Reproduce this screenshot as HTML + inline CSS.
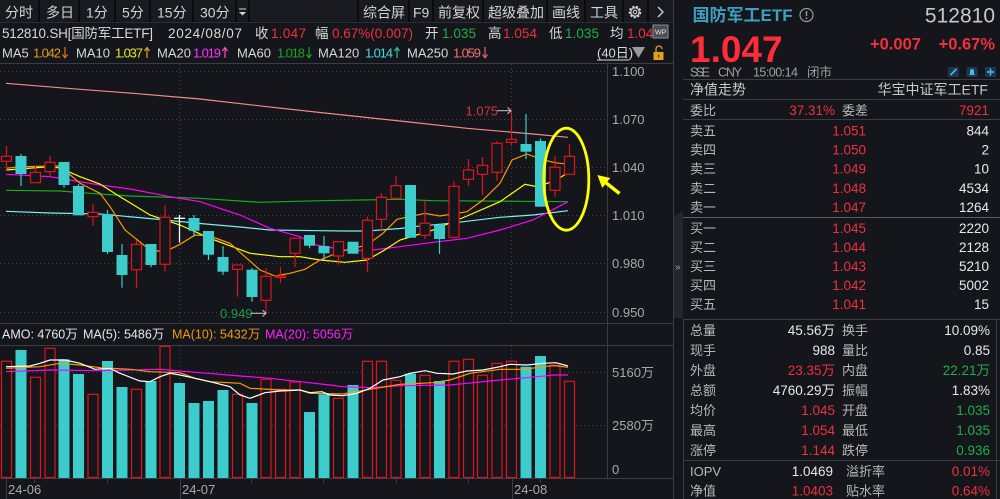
<!DOCTYPE html>
<html><head><meta charset="utf-8">
<style>
html,body{margin:0;padding:0;background:#14161b;}
body{width:1000px;height:499px;overflow:hidden;}
svg{display:block;}
text{font-family:"Liberation Sans","Noto Sans CJK SC",sans-serif;}
</style></head>
<body>
<svg width="1000" height="499" viewBox="0 0 1000 499" xmlns="http://www.w3.org/2000/svg">
<rect x="0" y="0" width="1000" height="499" fill="#14161b"/>

<!-- ===== Toolbar ===== -->
<rect x="0" y="0" width="673" height="22" fill="#181a1f"/>
<g stroke="#0a0b0d" stroke-width="2">
<line x1="39" y1="0" x2="39" y2="22"/><line x1="79" y1="0" x2="79" y2="22"/><line x1="115" y1="0" x2="115" y2="22"/>
<line x1="150" y1="0" x2="150" y2="22"/><line x1="193" y1="0" x2="193" y2="22"/><line x1="236" y1="0" x2="236" y2="22"/>
<line x1="249" y1="0" x2="249" y2="22"/><line x1="358" y1="0" x2="358" y2="22"/><line x1="409" y1="0" x2="409" y2="22"/>
<line x1="433" y1="0" x2="433" y2="22"/><line x1="483" y1="0" x2="483" y2="22"/><line x1="547" y1="0" x2="547" y2="22"/>
<line x1="585" y1="0" x2="585" y2="22"/><line x1="623" y1="0" x2="623" y2="22"/><line x1="648" y1="0" x2="648" y2="22"/>
</g>
<g font-size="14" fill="#d4d4d4">
<text x="5" y="17.5">分时</text><text x="46" y="17.5">多日</text><text x="86" y="17.5">1分</text>
<text x="122" y="17.5">5分</text><text x="157" y="17.5">15分</text><text x="200" y="17.5">30分</text>
<text x="363" y="17.5">综合屏</text><text x="413" y="17.5">F9</text><text x="438" y="17.5">前复权</text>
<text x="488" y="17.5">超级叠加</text><text x="552" y="17.5">画线</text><text x="590" y="17.5">工具</text>
</g>
<line x1="239" y1="9" x2="246" y2="9" stroke="#d4d4d4" stroke-width="1"/>
<polygon points="239,12 246,12 242.5,15.5" fill="#d4d4d4"/>
<circle cx="635" cy="12" r="5.2" fill="none" stroke="#cfcfcf" stroke-width="2.2" stroke-dasharray="2.2 1.4"/>
<circle cx="635" cy="12" r="4.2" fill="none" stroke="#cfcfcf" stroke-width="1.2"/>
<circle cx="635" cy="12" r="1.8" fill="none" stroke="#cfcfcf" stroke-width="1.1"/>
<polyline points="658,7 663,12 658,17" fill="none" stroke="#cfcfcf" stroke-width="1.4"/>
<line x1="0" y1="22.5" x2="673" y2="22.5" stroke="#2a2d33"/>

<!-- ===== Info line ===== -->
<g font-size="13.5">
<text x="2" y="38" fill="#d8d8d8" textLength="151">512810.SH[国防军工ETF]</text>
<text x="168" y="38" fill="#d8d8d8" textLength="74">2024/08/07</text>
<text x="255" y="38" fill="#d8d8d8">收</text>
<text x="271" y="38" fill="#f0303c" textLength="35">1.047</text>
<text x="315" y="38" fill="#d8d8d8">幅</text>
<text x="332" y="38" fill="#f0303c" textLength="81">0.67%(0.007)</text>
<text x="425" y="38" fill="#d8d8d8">开</text>
<text x="442" y="38" fill="#1fae45" textLength="34">1.035</text>
<text x="488" y="38" fill="#d8d8d8">高</text>
<text x="503" y="38" fill="#f0303c" textLength="34">1.054</text>
<text x="549" y="38" fill="#d8d8d8">低</text>
<text x="565" y="38" fill="#1fae45" textLength="34">1.035</text>
<text x="610" y="38" fill="#d8d8d8">均</text>
<text x="627" y="38" fill="#f0303c">1.04</text>
</g>
<rect x="653" y="25" width="15" height="13" fill="#4a4d55" stroke="#8a8d95" stroke-width="1"/>
<text x="655" y="34.5" font-size="7" fill="#e8e8e8">WP</text>

<!-- ===== MA line ===== -->
<g font-size="13">
<text x="2" y="57.5" fill="#d8d8d8">MA5</text>
<text x="33" y="57.5" fill="#e09a1c" textLength="28">1.042</text>
<text x="76" y="57.5" fill="#d8d8d8">MA10</text>
<text x="115" y="57.5" fill="#e8e820" textLength="28">1.037</text>
<text x="157" y="57.5" fill="#d8d8d8">MA20</text>
<text x="193" y="57.5" fill="#ff30ff" textLength="28">1.019</text>
<text x="237" y="57.5" fill="#d8d8d8">MA60</text>
<text x="277" y="57.5" fill="#22a022" textLength="28">1.018</text>
<text x="318" y="57.5" fill="#d8d8d8">MA120</text>
<text x="365" y="57.5" fill="#4ad8e0" textLength="28">1.014</text>
<text x="407" y="57.5" fill="#d8d8d8">MA250</text>
<text x="453" y="57.5" fill="#f07070" textLength="28">1.059</text>
<text x="597" y="57.5" fill="#d8d8d8">(40日)</text>
</g>
<!-- trend arrows -->
<g fill="none" stroke-width="1.2">
<g stroke="#e0701c"><line x1="65" y1="47" x2="65" y2="57.5"/><polyline points="62.5,54.5 65,57.8 67.5,54.5"/></g>
<g stroke="#e0a020"><line x1="147" y1="48" x2="147" y2="58"/><polyline points="144.5,51 147,47.5 149.5,51"/></g>
<g stroke="#ff50c0"><line x1="225" y1="48" x2="225" y2="58"/><polyline points="222.5,51 225,47.5 227.5,51"/></g>
<g stroke="#22a022"><line x1="309" y1="47" x2="309" y2="57.5"/><polyline points="306.5,54.5 309,57.8 311.5,54.5"/></g>
<g stroke="#30c090"><line x1="397" y1="48" x2="397" y2="58"/><polyline points="394.5,51 397,47.5 399.5,51"/></g>
<g stroke="#f06060"><line x1="485" y1="47" x2="485" y2="57.5"/><polyline points="482.5,54.5 485,57.8 487.5,54.5"/></g>
</g>
<line x1="597" y1="60" x2="629" y2="60" stroke="#d8d8d8" stroke-width="1"/>
<polygon points="632,47 645,47 638.5,58" fill="#9a9a9a"/>
<rect x="653.5" y="52" width="10" height="8" fill="#e0a020"/>
<path d="M656,52 v-3 a3,3 0 0 1 6,0" fill="none" stroke="#e0a020" stroke-width="1.3"/>
<rect x="657.8" y="54.5" width="1.6" height="3" fill="#7a5000"/>

<!-- ===== Frame lines ===== -->
<g stroke="#3a3d44" stroke-width="1">
<line x1="0" y1="63.5" x2="673" y2="63.5"/>
<line x1="0" y1="323.5" x2="673" y2="323.5"/>
<line x1="0" y1="345.5" x2="673" y2="345.5"/>
<line x1="0" y1="478.5" x2="673" y2="478.5"/>
<line x1="607.5" y1="63.5" x2="607.5" y2="478.5"/>
<line x1="673.5" y1="0" x2="673.5" y2="499"/>
</g>

<!-- grid -->
<g stroke="#40434b" stroke-width="1" stroke-dasharray="1 3">
<line x1="0" y1="71.5" x2="607" y2="71.5"/>
<line x1="0" y1="119.5" x2="607" y2="119.5"/>
<line x1="0" y1="167.5" x2="607" y2="167.5"/>
<line x1="0" y1="215.5" x2="607" y2="215.5"/>
<line x1="0" y1="263.5" x2="607" y2="263.5"/>
<line x1="0" y1="312.5" x2="607" y2="312.5"/>
<line x1="179.5" y1="64" x2="179.5" y2="323"/>
<line x1="511.5" y1="64" x2="511.5" y2="323"/>
<line x1="0" y1="372.5" x2="607" y2="372.5"/>
<line x1="0" y1="425.5" x2="607" y2="425.5"/>
<line x1="179.5" y1="346" x2="179.5" y2="478"/>
<line x1="511.5" y1="346" x2="511.5" y2="478"/>
</g>

<!-- price axis labels -->
<g font-size="13" fill="#a8a8a8">
<text x="612" y="76">1.100</text>
<text x="612" y="124">1.070</text>
<text x="612" y="172">1.040</text>
<text x="612" y="220">1.010</text>
<text x="612" y="268">0.980</text>
<text x="612" y="317">0.950</text>
<text x="612" y="377">5160万</text>
<text x="612" y="430">2580万</text>
<text x="612" y="474">0</text>
</g>

<!-- ===== MA lines (price) ===== -->
<g fill="none" stroke-width="1.2">
<polyline stroke="#f08a8a" points="6,83.3 67,88.3 133,93.3 200,99 267,106.7 320,112.5 400,121 467,128.3 533,134 568,137.3"/>
<polyline stroke="#7af0f0" points="6,211.3 50,213 100,214 160,219.5 200,223.5 240,227 270,230 320,230.7 345,231 367,231 400,228.5 413,226.7 450,223.3 500,217.3 533,215 568,210.7"/>
<polyline stroke="#12b012" points="6,190.3 60,191 90,193.3 130,196 200,198.3 260,202.3 320,200.7 400,199.3 433,200.7 520,201.3 568,201.7"/>
<polyline stroke="#ff00ff" points="6,174.3 50,176.7 70,180 100,185 130,189 170,196.7 200,201.7 240,215 270,228.3 300,236.7 316,245 345,250 367,250.7 400,246.7 433,242.3 467,238.3 500,230 533,220 568,201.7"/>
<polyline stroke="#ffff00" points="6,170 50,166.7 60,168 80,176.7 100,184 120,196.7 150,215 180,225 210,238.3 250,253.3 280,256.7 300,256.7 320,260 345,262.3 367,260 383,251 400,240 433,230 467,216 500,201.7 525,184.3 537,186.7 555,180.7 568,172.7"/>
<polyline stroke="#ff9900" points="6,168.3 20,166.7 60,166 80,183.3 100,193.3 110,206.7 125,230 150,250 165,251.7 180,244.3 195,235 210,236 230,243.3 245,256.7 260,270 275,276 290,273.3 305,269.3 320,260 340,251.7 367,245 383,233.3 397,219.3 425,213.3 440,216 467,211.7 483,200 500,183.3 512,160 527,154 541,159.3 555,162.7 568,164.3"/>
</g>

<!-- ===== Candles ===== -->
<g stroke-width="1.2">
<g stroke="#e0141e">
<line x1="6.5" y1="146" x2="6.5" y2="170"/>
<line x1="35.5" y1="165.3" x2="35.5" y2="182.7"/>
<line x1="50" y1="156.3" x2="50" y2="176.7"/>
<line x1="93" y1="204" x2="93" y2="225.7"/>
<line x1="136.5" y1="240" x2="136.5" y2="287.7"/>
<line x1="165" y1="205" x2="165" y2="271.7"/>
<line x1="237.5" y1="265" x2="237.5" y2="296.7"/>
<line x1="266" y1="268.3" x2="266" y2="313.3"/>
<line x1="280.5" y1="267.3" x2="280.5" y2="283.3"/>
<line x1="295" y1="238.3" x2="295" y2="267.3"/>
<line x1="338.5" y1="241.7" x2="338.5" y2="264.7"/>
<line x1="367.5" y1="216.7" x2="367.5" y2="271.7"/>
<line x1="381.5" y1="193.3" x2="381.5" y2="230"/>
<line x1="396" y1="176" x2="396" y2="198.3"/>
<line x1="425" y1="201.3" x2="425" y2="239"/>
<line x1="454" y1="181" x2="454" y2="237.3"/>
<line x1="468.5" y1="159" x2="468.5" y2="186"/>
<line x1="482.5" y1="157" x2="482.5" y2="195"/>
<line x1="497" y1="141" x2="497" y2="180.7"/>
<line x1="511.5" y1="110.7" x2="511.5" y2="145.7"/>
<line x1="555" y1="156" x2="555" y2="196.7"/>
<line x1="569.5" y1="144.3" x2="569.5" y2="174.3"/>
</g>
<g stroke="#3ccccc">
<line x1="21" y1="154" x2="21" y2="186"/>
<line x1="64" y1="162" x2="64" y2="187.7"/>
<line x1="78.5" y1="184" x2="78.5" y2="215.3"/>
<line x1="107.5" y1="210" x2="107.5" y2="254"/>
<line x1="122" y1="244" x2="122" y2="287.7"/>
<line x1="151" y1="244" x2="151" y2="267.3"/>
<line x1="194" y1="215" x2="194" y2="236.7"/>
<line x1="208.5" y1="231" x2="208.5" y2="260"/>
<line x1="223" y1="246" x2="223" y2="275"/>
<line x1="252" y1="268" x2="252" y2="301.7"/>
<line x1="309.5" y1="235" x2="309.5" y2="248.3"/>
<line x1="324" y1="236" x2="324" y2="260"/>
<line x1="439.5" y1="224.7" x2="439.5" y2="254"/>
<line x1="526" y1="114" x2="526" y2="159"/>
<line x1="540.5" y1="138.3" x2="540.5" y2="206.7"/>
</g>
<g fill="#14161b" stroke="#e0141e">
<rect x="1.5" y="156.3" width="10" height="5"/>
<rect x="30.5" y="172.3" width="10" height="10.4"/>
<rect x="45" y="162.3" width="10" height="9.4"/>
<rect x="88" y="212.3" width="10" height="4.4"/>
<rect x="131.5" y="244.3" width="10" height="25.4"/>
<rect x="160" y="217.3" width="10" height="47"/>
<rect x="232.5" y="265" width="10" height="4.3"/>
<rect x="261" y="276.3" width="10" height="24"/>
<rect x="275.5" y="276" width="10" height="1.5"/>
<rect x="290" y="238.3" width="10" height="15"/>
<rect x="333.5" y="241.7" width="10" height="14.3"/>
<rect x="362.5" y="220.3" width="10" height="38"/>
<rect x="376.5" y="197.3" width="10" height="22"/>
<rect x="391" y="185.7" width="10" height="12.6"/>
<rect x="420" y="223.3" width="10" height="12"/>
<rect x="449" y="186.3" width="10" height="51"/>
<rect x="463.5" y="170" width="10" height="9.3"/>
<rect x="477.5" y="165.3" width="10" height="9"/>
<rect x="492" y="143.3" width="10" height="29"/>
<rect x="506.5" y="139.3" width="10" height="3"/>
<rect x="550" y="167.3" width="10" height="23"/>
<rect x="564.5" y="156.3" width="10" height="18"/>
</g>
<g fill="#3ccccc" stroke="none">
<rect x="15.5" y="156" width="11" height="18"/>
<rect x="58.5" y="162" width="11" height="23"/>
<rect x="73" y="186" width="11" height="29.3"/>
<rect x="102" y="214" width="11" height="38"/>
<rect x="116.5" y="255" width="11" height="20"/>
<rect x="145.5" y="244" width="11" height="21"/>
<rect x="188.5" y="218" width="11" height="12.7"/>
<rect x="203" y="231" width="11" height="23.7"/>
<rect x="217.5" y="257" width="11" height="14.7"/>
<rect x="246.5" y="269.7" width="11" height="27.3"/>
<rect x="304" y="235" width="11" height="10.7"/>
<rect x="318.5" y="246" width="11" height="7.3"/>
<rect x="347.5" y="241.7" width="11" height="12"/>
<rect x="405" y="185" width="11" height="52.7"/>
<rect x="434" y="224.7" width="11" height="14.3"/>
<rect x="520.5" y="144" width="11" height="7.7"/>
<rect x="535" y="141" width="11" height="65.7"/>
</g>
<g stroke="#ffffff" stroke-width="1.3">
<line x1="179.5" y1="215" x2="179.5" y2="242.7"/>
<line x1="174" y1="218.3" x2="185" y2="218.3"/>
</g>
</g>

<!-- high / low labels -->
<text x="465.5" y="115.5" font-size="13" fill="#d8303a">1.075</text>
<line x1="497" y1="110.7" x2="511" y2="110.7" stroke="#c8c8c8" stroke-width="1"/>
<polyline points="507.5,107.5 511,110.7 507.5,113.9" fill="none" stroke="#c8c8c8" stroke-width="1"/>
<text x="220" y="318" font-size="13" fill="#1f9a4a">0.949</text>
<line x1="251" y1="313.3" x2="266" y2="313.3" stroke="#c8c8c8" stroke-width="1"/>
<polyline points="262.5,310.1 266,313.3 262.5,316.5" fill="none" stroke="#c8c8c8" stroke-width="1"/>

<!-- yellow annotation -->
<ellipse cx="566.3" cy="179.2" rx="22.5" ry="51" fill="none" stroke="#ffff00" stroke-width="2.8"/>
<polygon points="597.3,175 610.3,178 602.3,188" fill="#ffff00"/>
<line x1="605" y1="182" x2="619.5" y2="193.5" stroke="#ffff00" stroke-width="3.5"/>

<!-- ===== Volume header ===== -->
<g font-size="12.5">
<text x="2" y="338.5" fill="#e8e8e8">AMO: 4760万</text>
<text x="83" y="338.5" fill="#e8e8e8">MA(5): 5486万</text>
<text x="172" y="338.5" fill="#f09a10">MA(10): 5432万</text>
<text x="265" y="338.5" fill="#ff20ff">MA(20): 5056万</text>
</g>

<!-- ===== Volume bars ===== -->
<g fill="#14161b" stroke="#e0141e" stroke-width="1.2">
<rect x="1.5" y="361.3" width="10" height="116.2"/>
<rect x="30.5" y="377.3" width="10" height="100.2"/>
<rect x="45" y="348.3" width="10" height="129.2"/>
<rect x="88" y="394.3" width="10" height="83.2"/>
<rect x="131.5" y="389.3" width="10" height="88.2"/>
<rect x="160" y="346.3" width="10" height="131.2"/>
<rect x="232.5" y="394.3" width="10" height="83.2"/>
<rect x="261" y="379.3" width="10" height="98.2"/>
<rect x="275.5" y="389.3" width="10" height="88.2"/>
<rect x="290" y="382" width="10" height="95.5"/>
<rect x="333.5" y="398.3" width="10" height="79.2"/>
<rect x="362.5" y="361.3" width="10" height="116.2"/>
<rect x="376.5" y="361.3" width="10" height="116.2"/>
<rect x="391" y="380.3" width="10" height="97.2"/>
<rect x="420" y="375.3" width="10" height="102.2"/>
<rect x="449" y="361.3" width="10" height="116.2"/>
<rect x="463.5" y="359.3" width="10" height="118.2"/>
<rect x="477.5" y="375.3" width="10" height="102.2"/>
<rect x="492" y="363.3" width="10" height="114.2"/>
<rect x="506.5" y="361.3" width="10" height="116.2"/>
<rect x="550" y="365.3" width="10" height="112.2"/>
<rect x="564.5" y="381.3" width="10" height="96.2"/>
</g>
<g fill="#3ccccc">
<rect x="15.5" y="350" width="11" height="128"/>
<rect x="58.5" y="359.3" width="11" height="118.7"/>
<rect x="73" y="374" width="11" height="104"/>
<rect x="102" y="361" width="11" height="117"/>
<rect x="116.5" y="387" width="11" height="91"/>
<rect x="145.5" y="381" width="11" height="97"/>
<rect x="174" y="383" width="11" height="95"/>
<rect x="188.5" y="403" width="11" height="75"/>
<rect x="203" y="401" width="11" height="77"/>
<rect x="217.5" y="390" width="11" height="88"/>
<rect x="246.5" y="403" width="11" height="75"/>
<rect x="304" y="412" width="11" height="66"/>
<rect x="318.5" y="394.3" width="11" height="83.7"/>
<rect x="347.5" y="385" width="11" height="93"/>
<rect x="405" y="373.7" width="11" height="104.3"/>
<rect x="434" y="381" width="11" height="97"/>
<rect x="520.5" y="366.7" width="11" height="111.3"/>
<rect x="535" y="356" width="11" height="122"/>
</g>

<!-- volume MA lines -->
<g fill="none" stroke-width="1.2">
<polyline stroke="#ff00ff" points="6,371.7 50,370 100,370.7 160,369.3 200,372.7 240,376 270,378.3 300,381.7 330,385 343,386.7 370,387.7 400,385.7 450,385 467,383.3 500,380 530,377.3 555,375 568,375"/>
<polyline stroke="#ff9900" points="6,368.3 40,366.7 60,363.3 80,365 100,367.7 130,369.3 150,371.7 180,372.7 195,378.3 210,381.7 240,383.3 250,388.3 280,390 300,390 310,393.3 343,394 370,389.3 400,384.3 433,382.7 450,380 470,373.3 500,369.3 527,369.3 540,366.7 555,365.7 568,367.3"/>
<polyline stroke="#ffffff" points="6,366.7 30,366 40,363.3 50,360 65,360 80,363.3 95,369.3 110,368.3 120,373.3 140,381 150,381.7 160,376.7 170,373.3 180,375 195,378.3 210,381.7 230,386.7 240,395 250,398.3 265,392.7 280,391 300,390 310,392.7 322,391.7 330,395 343,395.7 357,393.3 370,388.3 383,380 400,376.7 410,373.3 425,370.7 437,373.3 453,374 467,371 483,370 500,366.7 510,364.3 527,365 543,363.3 556,362.7 568,366"/>
</g>

<!-- x axis -->
<g stroke="#3a3d44" stroke-width="1">
<line x1="6.5" y1="478" x2="6.5" y2="499"/>
<line x1="180.5" y1="478" x2="180.5" y2="499"/>
<line x1="512.5" y1="478" x2="512.5" y2="499"/>
<line x1="34.5" y1="478" x2="34.5" y2="483"/>
<line x1="107.5" y1="478" x2="107.5" y2="483"/>
<line x1="251.5" y1="478" x2="251.5" y2="483"/>
<line x1="323.5" y1="478" x2="323.5" y2="483"/>
<line x1="396.5" y1="478" x2="396.5" y2="483"/>
<line x1="468.5" y1="478" x2="468.5" y2="483"/>
<line x1="540.5" y1="478" x2="540.5" y2="483"/>
</g>
<g font-size="13" fill="#a8a8a8">
<text x="8" y="494">24-06</text>
<text x="182" y="494">24-07</text>
<text x="514" y="494">24-08</text>
</g>

<!-- ===== Right panel ===== -->
<text x="692.5" y="21" font-size="17" font-weight="bold" fill="#3e9fc4">国防军工ETF</text>
<circle cx="806.5" cy="15" r="6.5" fill="none" stroke="#9a9a9a" stroke-width="1.2"/>
<line x1="806.5" y1="11" x2="806.5" y2="16" stroke="#9a9a9a" stroke-width="1.4"/>
<circle cx="806.5" cy="18.3" r="0.9" fill="#9a9a9a"/>
<text x="995" y="22.5" font-size="21" fill="#c8c8c8" text-anchor="end">512810</text>
<text x="690" y="62" font-size="37" font-weight="bold" fill="#ff2d3a">1.047</text>
<text x="870" y="49.5" font-size="16.5" font-weight="bold" fill="#f0303c">+0.007</text>
<text x="995" y="49.5" font-size="16.5" font-weight="bold" fill="#f0303c" text-anchor="end">+0.67%</text>
<g font-size="12.5" fill="#a0a0a0">
<text x="690" y="76.5" textLength="20">SSE</text><text x="718" y="76.5" textLength="24">CNY</text><text x="753" y="76.5" textLength="45">15:00:14</text><text x="807" y="76.5">闭市</text>
</g>
<rect x="948" y="67" width="11" height="10" rx="1" fill="#1d3550"/>
<line x1="950.5" y1="75" x2="956.5" y2="69" stroke="#4ab8e0" stroke-width="1.6"/>
<rect x="966.5" y="67" width="11" height="10" rx="1" fill="#1d3550"/>
<path d="M969,75 h6 l-1,-1.5 v-2.5 a2,2 0 0 0 -4,0 v2.5 z" fill="#4ab8e0"/>
<rect x="985" y="67" width="11" height="10" rx="1" fill="#1d3550"/>
<line x1="990.5" y1="68.5" x2="990.5" y2="75.5" stroke="#4ab8e0" stroke-width="1.6"/>
<line x1="987" y1="72" x2="994" y2="72" stroke="#4ab8e0" stroke-width="1.6"/>

<g stroke="#3a3d44" stroke-width="1">
<line x1="683" y1="79.5" x2="1000" y2="79.5"/>
<line x1="683" y1="99.5" x2="1000" y2="99.5"/>
<line x1="683" y1="119.5" x2="1000" y2="119.5"/>
<line x1="683" y1="319.5" x2="1000" y2="319.5"/>
<line x1="683" y1="460.5" x2="1000" y2="460.5"/>
<line x1="683.5" y1="319" x2="683.5" y2="499"/>
<line x1="996.5" y1="319" x2="996.5" y2="499"/>
</g>
<line x1="683" y1="217.5" x2="1000" y2="217.5" stroke="#5a5d64" stroke-width="1"/>
<text x="690" y="94.5" font-size="14" fill="#c8c8c8">净值走势</text>
<text x="988" y="94.5" font-size="14" fill="#c8c8c8" text-anchor="end">华宝中证军工ETF</text>

<!-- side tab -->
<path d="M674,216 L683,211 L683,318 L674,318 Z" fill="#24262c"/>
<text x="675" y="270" font-size="10" fill="#a0a0a0">»</text>

<g font-size="13" fill="#b8b8b8">
<text x="690" y="115">委比</text><text x="842" y="115">委差</text>
<text x="690" y="135.5">卖五</text><text x="690" y="154.5">卖四</text><text x="690" y="173.5">卖三</text>
<text x="690" y="192.8">卖二</text><text x="690" y="211.8">卖一</text>
<text x="690" y="232.8">买一</text><text x="690" y="251.8">买二</text><text x="690" y="270.8">买三</text>
<text x="690" y="289.8">买四</text><text x="690" y="308.8">买五</text>
<text x="690" y="335.2">总量</text><text x="842" y="335.2">换手</text>
<text x="690" y="355.2">现手</text><text x="842" y="355.2">量比</text>
<text x="690" y="375.2">外盘</text><text x="842" y="375.2">内盘</text>
<text x="690" y="395.2">总额</text><text x="842" y="395.2">振幅</text>
<text x="690" y="415.2">均价</text><text x="842" y="415.2">开盘</text>
<text x="690" y="435.2">最高</text><text x="842" y="435.2">最低</text>
<text x="690" y="455.2">涨停</text><text x="842" y="455.2">跌停</text>
<text x="690" y="476.2">IOPV</text><text x="846" y="476.2">溢折率</text>
<text x="690" y="495.5">净值</text><text x="846" y="495.5">贴水率</text>
</g>
<g font-size="13.5" text-anchor="end">
<text x="835" y="115" fill="#f0303c">37.31%</text>
<text x="989" y="115" fill="#f0303c">7921</text>
<text x="866" y="135.5" fill="#f0303c">1.051</text><text x="989" y="135.5" fill="#e8e8e8">844</text>
<text x="866" y="154.5" fill="#f0303c">1.050</text><text x="989" y="154.5" fill="#e8e8e8">2</text>
<text x="866" y="173.5" fill="#f0303c">1.049</text><text x="989" y="173.5" fill="#e8e8e8">10</text>
<text x="866" y="192.8" fill="#f0303c">1.048</text><text x="989" y="192.8" fill="#e8e8e8">4534</text>
<text x="866" y="211.8" fill="#f0303c">1.047</text><text x="989" y="211.8" fill="#e8e8e8">1264</text>
<text x="866" y="232.8" fill="#f0303c">1.045</text><text x="989" y="232.8" fill="#e8e8e8">2220</text>
<text x="866" y="251.8" fill="#f0303c">1.044</text><text x="989" y="251.8" fill="#e8e8e8">2128</text>
<text x="866" y="270.8" fill="#f0303c">1.043</text><text x="989" y="270.8" fill="#e8e8e8">5210</text>
<text x="866" y="289.8" fill="#f0303c">1.042</text><text x="989" y="289.8" fill="#e8e8e8">5002</text>
<text x="866" y="308.8" fill="#f0303c">1.041</text><text x="989" y="308.8" fill="#e8e8e8">15</text>

<text x="835" y="335.2" fill="#e8e8e8">45.56万</text><text x="990" y="335.2" fill="#e8e8e8">10.09%</text>
<text x="835" y="355.2" fill="#e8e8e8">988</text><text x="990" y="355.2" fill="#e8e8e8">0.85</text>
<text x="835" y="375.2" fill="#f0303c">23.35万</text><text x="990" y="375.2" fill="#1fae45">22.21万</text>
<text x="835" y="395.2" fill="#e8e8e8">4760.29万</text><text x="990" y="395.2" fill="#e8e8e8">1.83%</text>
<text x="835" y="415.2" fill="#f0303c">1.045</text><text x="990" y="415.2" fill="#1fae45">1.035</text>
<text x="835" y="435.2" fill="#f0303c">1.054</text><text x="990" y="435.2" fill="#1fae45">1.035</text>
<text x="835" y="455.2" fill="#f0303c">1.144</text><text x="990" y="455.2" fill="#1fae45">0.936</text>
<text x="833" y="476.2" fill="#e8e8e8">1.0469</text><text x="990" y="476.2" fill="#f0303c">0.01%</text>
<text x="833" y="495.5" fill="#f0303c">1.0403</text><text x="990" y="495.5" fill="#f0303c">0.64%</text>
</g>
</svg>
</body></html>
